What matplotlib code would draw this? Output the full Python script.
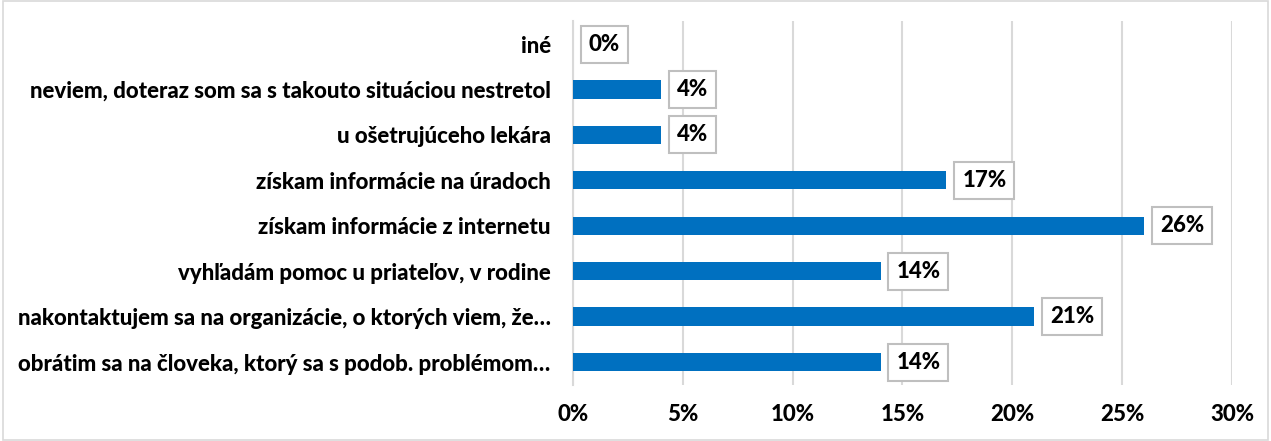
import matplotlib.pyplot as plt
from matplotlib.patches import Rectangle

categories = [
    'iné',
    'neviem, doteraz som sa s takouto situáciou nestretol',
    'u ošetrujúceho lekára',
    'získam informácie na úradoch',
    'získam informácie z internetu',
    'vyhľadám pomoc u priateľov, v rodine',
    'nakontaktujem sa na organizácie, o ktorých viem, že…',
    'obrátim sa na človeka, ktorý sa s podob. problémom…',
]
values = [0, 4, 4, 17, 26, 14, 21, 14]
xticks = [0, 5, 10, 15, 20, 25, 30]

plt.rcParams['font.family'] = ['Lato', 'DejaVu Sans']
wt = 'black'
fs = 16

fig = plt.figure(figsize=(12.71, 4.41), dpi=100)
ax = fig.add_axes([0.4508, 0.1276, 0.5185, 0.8241])

ypos = list(range(len(categories)))
ax.barh(ypos, values, height=0.4, color='#0070c0', zorder=3)

for y, v in zip(ypos, values):
    ax.text(v + 0.72, y, f'{v}%', ha='left', va='center', fontsize=fs,
            fontweight=wt, zorder=4,
            bbox=dict(boxstyle='square,pad=0.36', facecolor='white',
                      edgecolor='#bfbfbf', linewidth=1.5))

ax.set_xlim(0, 30)
ax.set_ylim(len(categories) - 0.5, -0.5)
ax.set_xticks(xticks)
ax.set_xticklabels([f'{t}%' for t in xticks], fontsize=fs, fontweight=wt)
ax.set_yticks(ypos)
ax.set_yticklabels(categories, fontsize=fs, fontweight=wt)
ax.tick_params(axis='both', length=0)
ax.tick_params(axis='x', pad=14)
ax.tick_params(axis='y', pad=16)

ax.grid(axis='x', color='#d9d9d9', linewidth=1.5, zorder=0)
for side in ['top', 'right', 'bottom']:
    ax.spines[side].set_visible(False)
ax.spines['left'].set_color('#d9d9d9')
ax.spines['left'].set_linewidth(1.5)

fig.patches.append(Rectangle((0.002, 0.002), 0.996, 0.996, transform=fig.transFigure,
                             fill=False, edgecolor='#d9d9d9', linewidth=1.2))

fig.savefig('out.png', dpi=100)
